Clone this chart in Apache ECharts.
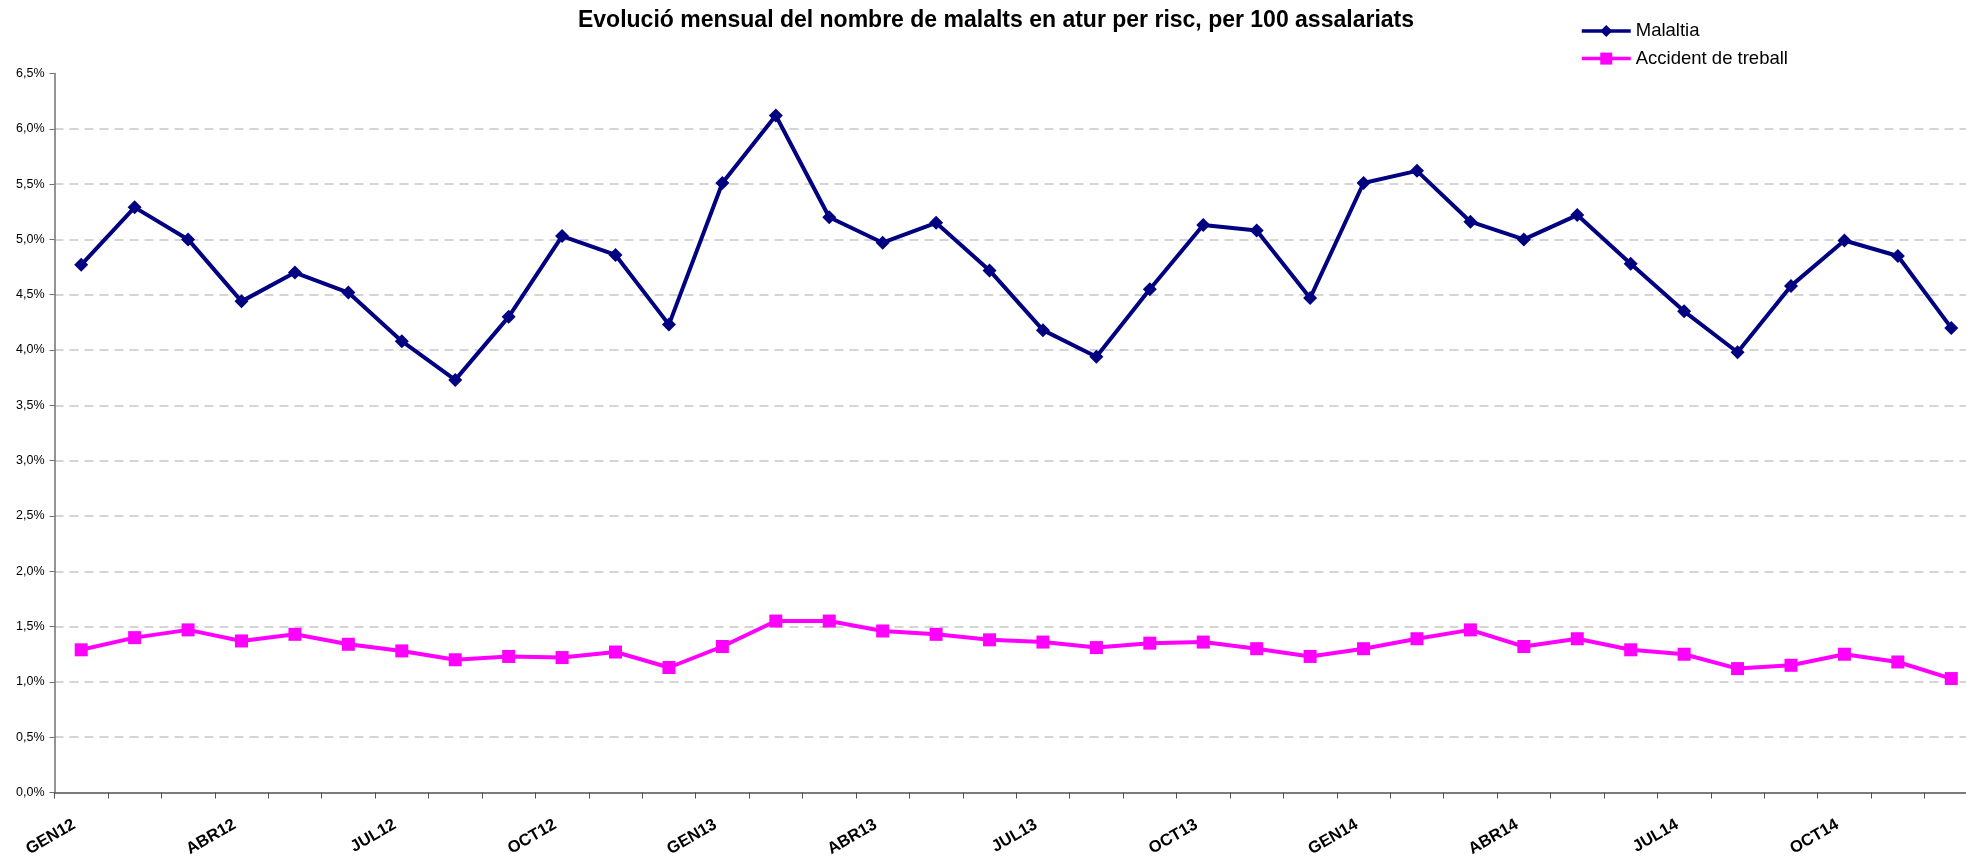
<!DOCTYPE html>
<html>
<head>
<meta charset="utf-8">
<script src="https://cdn.jsdelivr.net/npm/echarts@6/dist/echarts.min.js"></script>
<style>
  html, body { margin: 0; padding: 0; background: #ffffff; }
  #chart { width: 1966px; height: 856px; }
</style>
</head>
<body>
<div id="chart"></div>
<script>
// Monthly categories, Jan 2012 - Dec 2014 (Catalan month abbreviations)
const months = [
  'GEN12','FEB12','MAR12','ABR12','MAI12','JUN12','JUL12','AGO12','SET12','OCT12','NOV12','DES12',
  'GEN13','FEB13','MAR13','ABR13','MAI13','JUN13','JUL13','AGO13','SET13','OCT13','NOV13','DES13',
  'GEN14','FEB14','MAR14','ABR14','MAI14','JUN14','JUL14','AGO14','SET14','OCT14','NOV14','DES14'
];

// Sick workers in unemployment per 100 employees (%), by risk
const malaltia = [
  4.77, 5.29, 5.00, 4.44, 4.70, 4.52, 4.08, 3.73, 4.30, 5.03, 4.86, 4.23,
  5.51, 6.12, 5.20, 4.97, 5.15, 4.72, 4.18, 3.94, 4.55, 5.13, 5.08, 4.47,
  5.51, 5.62, 5.16, 5.00, 5.22, 4.78, 4.35, 3.98, 4.58, 4.99, 4.85, 4.20
];
const accidentTreball = [
  1.29, 1.40, 1.47, 1.37, 1.43, 1.34, 1.28, 1.20, 1.23, 1.22, 1.27, 1.13,
  1.32, 1.55, 1.55, 1.46, 1.43, 1.38, 1.36, 1.31, 1.35, 1.36, 1.30, 1.23,
  1.30, 1.39, 1.47, 1.32, 1.39, 1.29, 1.25, 1.12, 1.15, 1.25, 1.18, 1.03
];

// Value axis range and step (%)
const yMin = 0;
const yMax = 6.5;
const yStep = 0.5;

const chart = echarts.init(document.getElementById('chart'), null, { renderer: 'canvas' });

const fontFamily = '"Liberation Sans", Arial, sans-serif';

chart.setOption({
  backgroundColor: '#ffffff',
  animation: false,
  title: {
    text: 'Evolució mensual del nombre de malalts en atur per risc, per 100 assalariats',
    left: 991,
    top: 4,
    textAlign: 'center',
    textStyle: { fontFamily, fontSize: 23, fontWeight: 'bold', color: '#000000' }
  },
  legend: {
    orient: 'vertical',
    left: 1575,
    top: 16,
    itemWidth: 49,
    itemHeight: 15,
    itemGap: 7.6,
    lineStyle: { width: 3.5 },
    textStyle: { fontFamily, fontSize: 18.5, color: '#000000', lineHeight: 20 },
    data: ['Malaltia', 'Accident de treball']
  },
  grid: {
    left: 54.5,
    right: -12,
    top: 73.5,
    bottom: 63.5,
    containLabel: false,
    outerBoundsMode: 'none'
  },
  xAxis: {
    type: 'category',
    data: months,
    boundaryGap: true,
    axisLine: { show: true, lineStyle: { color: '#505050', width: 1.5 } },
    axisTick: { show: true, interval: 0, length: 6, lineStyle: { color: '#505050', width: 1 } },
    axisLabel: {
      interval: 2,
      rotate: 30,
      margin: 27,
      padding: [0, 8, 0, 0],
      fontFamily,
      fontSize: 16.5,
      fontWeight: 'bold',
      color: '#000000'
    },
    splitLine: { show: false }
  },
  yAxis: {
    type: 'value',
    min: yMin,
    max: yMax,
    interval: yStep,
    axisLine: { show: true, lineStyle: { color: '#707070', width: 1.5 } },
    axisTick: { show: true, length: 5, lineStyle: { color: '#707070', width: 1 } },
    axisLabel: {
      margin: 10,
      fontFamily,
      fontSize: 12.5,
      color: '#000000',
      formatter: v => v.toFixed(1).replace('.', ',') + '%'
    },
    splitLine: {
      show: true,
      showMinLine: false,
      showMaxLine: false,
      lineStyle: { color: '#c8c8c8', width: 1.5, type: [9, 6] }
    }
  },
  series: [
    {
      name: 'Malaltia',
      type: 'line',
      data: malaltia,
      symbol: 'diamond',
      symbolSize: 14,
      color: '#000080',
      lineStyle: { color: '#000080', width: 4 },
      itemStyle: { color: '#000080' },
      z: 3
    },
    {
      name: 'Accident de treball',
      type: 'line',
      data: accidentTreball,
      symbol: 'rect',
      symbolSize: 13,
      color: '#ff00ff',
      lineStyle: { color: '#ff00ff', width: 4 },
      itemStyle: { color: '#ff00ff' },
      z: 2
    }
  ]
});
</script>
</body>
</html>
